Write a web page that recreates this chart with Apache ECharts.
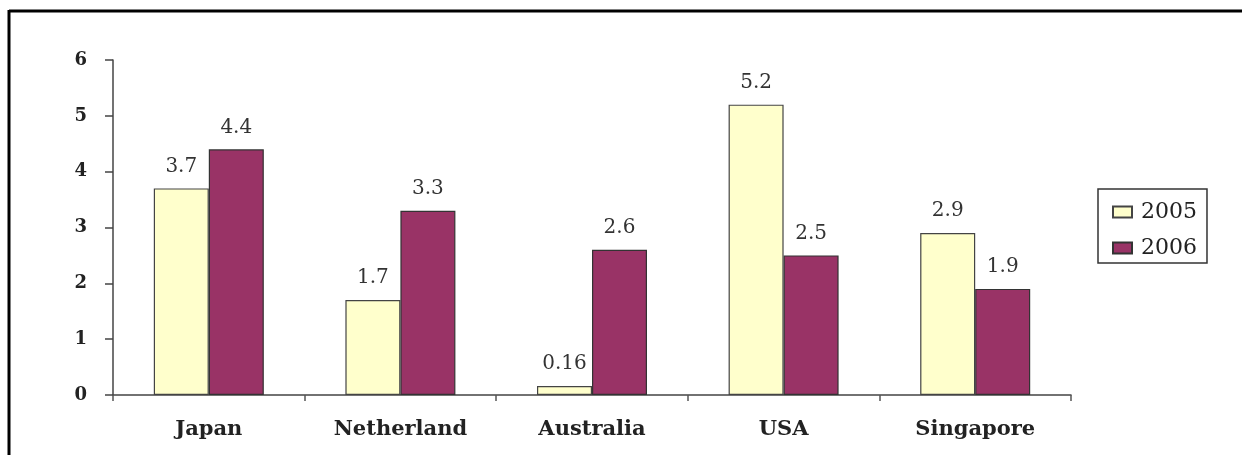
<!DOCTYPE html>
<html>
<head>
<meta charset="utf-8">
<script src="https://cdn.jsdelivr.net/npm/echarts@6/dist/echarts.min.js"></script>
<style>
html,body{margin:0;padding:0;background:#fff;}
#c{width:1242px;height:455px;}
</style>
</head>
<body>
<div id="c"></div>
<script>
var categories = ['Japan', 'Netherland', 'Australia', 'USA', 'Singapore'];
var seriesNames = ['2005', '2006'];
var values2005 = [3.7, 1.7, 0.16, 5.2, 2.9];
var values2006 = [4.4, 3.3, 2.6, 2.5, 1.9];
var yTicks = [0, 1, 2, 3, 4, 5, 6];

var chart = echarts.init(document.getElementById('c'), null, {renderer: 'canvas'});
var FONT = '"DejaVu Serif", "Liberation Serif", serif';
var labelStyle = {
  show: true, position: 'top', distance: 12,
  fontFamily: FONT, fontSize: 20, color: '#333',
  formatter: function (p) { return String(p.value); }
};
chart.setOption({
  backgroundColor: '#ffffff',
  animation: false,
  textStyle: {fontFamily: FONT},
  graphic: [
    {type: 'line', shape: {x1: 9, y1: 11, x2: 1250, y2: 11}, style: {stroke: '#000', lineWidth: 3}},
    {type: 'line', shape: {x1: 9, y1: 10, x2: 9, y2: 460}, style: {stroke: '#000', lineWidth: 3}}
  ],
  grid: {left: 113, right: 171, top: 60, bottom: 60, containLabel: false},
  legend: {
    data: seriesNames,
    orient: 'vertical',
    left: 1098, top: 189,
    padding: [12, 10, 4, 14],
    itemGap: 14,
    itemWidth: 19, itemHeight: 11,
    borderColor: '#333', borderWidth: 1.5,
    backgroundColor: '#fff',
    textStyle: {fontFamily: FONT, fontSize: 22, color: '#222', padding: [0, 0, 0, 4]},
    icon: 'rect'
  },
  xAxis: {
    type: 'category',
    data: categories,
    boundaryGap: true,
    axisLine: {lineStyle: {color: '#444', width: 1.5}},
    axisTick: {show: true, length: 6, lineStyle: {color: '#555', width: 1.5}},
    axisLabel: {fontFamily: FONT, fontSize: 21, fontWeight: 'bold', color: '#222', margin: 24},
    splitLine: {show: false}
  },
  yAxis: {
    type: 'value',
    min: 0, max: 6, interval: 1,
    axisLine: {show: true, lineStyle: {color: '#444', width: 1.5}},
    axisTick: {show: true, length: 8, lineStyle: {color: '#444', width: 1.5}},
    axisLabel: {fontFamily: FONT, fontSize: 18, fontWeight: 'bold', color: '#222', margin: 26,
      formatter: function (v) { return yTicks.indexOf(v) >= 0 ? String(v) : ''; }},
    splitLine: {show: false}
  },
  series: [
    {
      name: seriesNames[0], type: 'bar', data: values2005,
      barWidth: 55, barGap: '0%',
      itemStyle: {color: '#FFFFCC', borderColor: '#444', borderWidth: 1.2},
      label: labelStyle
    },
    {
      name: seriesNames[1], type: 'bar', data: values2006,
      barWidth: 55, barGap: '0%',
      itemStyle: {color: '#993366', borderColor: '#333', borderWidth: 1.2},
      label: labelStyle
    }
  ]
});
</script>
</body>
</html>
